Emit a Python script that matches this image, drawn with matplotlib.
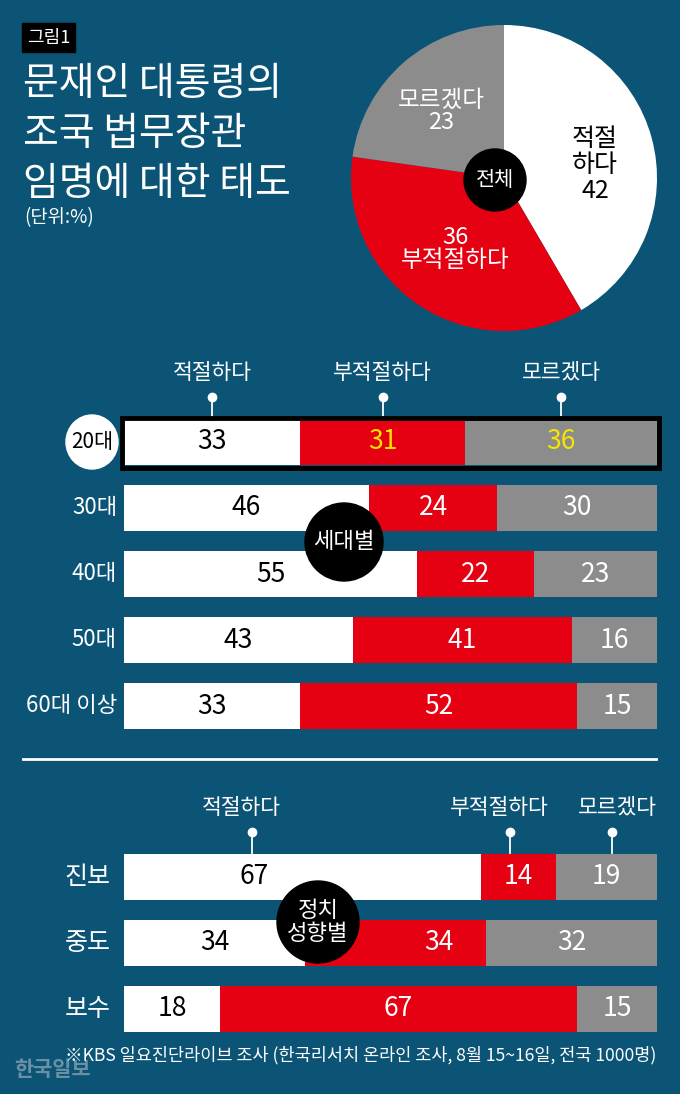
"""
문재인 대통령의 조국 법무장관 임명에 대한 태도 (그림1)
"""

import numpy as np
import matplotlib.pyplot as plt
import matplotlib.patches as mpatches

plt.rcParams['font.family'] = ['Noto Sans CJK KR', 'DejaVu Sans']

# data
answers = ['적절하다', '부적절하다', '모르겠다']
total = [42, 36, 23]

ages = ['20대', '30대', '40대', '50대', '60대 이상']
age_fit = [33, 46, 55, 43, 33]
age_unfit = [31, 24, 22, 41, 52]
age_dunno = [36, 30, 23, 16, 15]

groups = ['진보', '중도', '보수']
grp_fit = [67, 34, 18]
grp_unfit = [14, 34, 67]
grp_dunno = [19, 32, 15]

BG = '#0b5476'
RED = '#e50012'
GREY = '#8c8c8c'
YELLOW = '#f7e500'

W, H = 680, 1094
fig = plt.figure(figsize=(W / 100, H / 100), dpi=100)
fig.patch.set_facecolor(BG)


def px_axes(x0, y0, x1, y1, z=1):
	# axes placed by pixel box (top-left origin)
	return fig.add_axes([x0 / W, 1 - y1 / H, (x1 - x0) / W, (y1 - y0) / H], zorder=z)


# ---- pie ----
cx, cy, r = 504, 178, 153
pax = px_axes(cx - r, cy - r, cx + r, cy + r)
pax.pie(total, colors=['white', RED, GREY], startangle=90, counterclock=False,
	wedgeprops=dict(linewidth=0))
pax.set_xlim(-1, 1)
pax.set_ylim(-1, 1)
pax.axis('off')


def stacked(ax, rows, fit, unfit, dunno, yellow_row=None, nudge={}):
	vals = np.array([fit, unfit, dunno]).T
	lefts = np.zeros(len(rows))
	colors = ['white', RED, GREY]
	ypos = np.arange(len(rows))
	for j in range(3):
		ax.barh(ypos, vals[:, j], left=lefts, height=0.71, color=colors[j], linewidth=0)
		for i in range(len(rows)):
			tc = 'black' if j == 0 else 'white'
			if i == yellow_row and j > 0:
				tc = YELLOW
			# some labels are pushed aside to clear the black badges
			x = nudge.get((i, j), lefts[i] + vals[i, j] / 2)
			ax.text(x, i, str(vals[i, j]), ha='center', va='center',
				fontsize=19, color=tc)
		lefts = lefts + vals[:, j]
	ax.set_xlim(0, 100)
	ax.set_ylim(len(rows) - 0.5, -0.5)
	ax.axis('off')
	return vals


def legend_pins(ax, xs, texts, text_xs=None):
	if text_xs is None:
		text_xs = xs
	for x, tx, t in zip(xs, text_xs, texts):
		ax.plot([x, x], [-0.68, -0.36], color='white', lw=1.3, clip_on=False)
		ax.plot(x, -0.68, 'o', color='white', ms=6, clip_on=False)
		ax.text(tx, -1.05, t, ha='center', va='center', color='white', fontsize=15.5)


# ---- by age ----
aax = px_axes(124, 409, 657, 739, z=2)
vals = stacked(aax, ages, age_fit, age_unfit, age_dunno, yellow_row=0)
centers = np.cumsum(vals[0]) - vals[0] / 2
legend_pins(aax, centers, answers)
aax.add_patch(mpatches.Rectangle((-0.4, -0.37), 100.8, 0.76, fill=False,
	edgecolor='black', lw=3.5, clip_on=False, zorder=5))
for i, a in enumerate(ages):
	if i == 0:
		continue
	aax.text(-1.3, i, a, ha='right', va='center', color='white', fontsize=16)

# ---- by ideology ----
gax = px_axes(124, 844, 657, 1042, z=2)
stacked(gax, groups, grp_fit, grp_unfit, grp_dunno, nudge={(0, 0): 24.5, (1, 1): 59})
legend_pins(gax, [24, 72.5, 91.5], answers, text_xs=[22, 70.5, 92.5])
for i, g in enumerate(groups):
	gax.text(-2.5, i, g, ha='right', va='center', color='white', fontsize=18)

# ---- overlay in pixel coords ----
ov = px_axes(0, 0, W, H, z=3)
ov.set_xlim(0, W)
ov.set_ylim(H, 0)
ov.axis('off')

ov.add_patch(mpatches.Rectangle((22, 23), 53, 29, color='black'))
ov.text(48.5, 38, '그림1', ha='center', va='center', color='white', fontsize=13)
for k, line in enumerate(['문재인 대통령의', '조국 법무장관', '임명에 대한 태도']):
	ov.text(23, 84 + 50 * k, line, ha='left', va='center', color='white', fontsize=28)
ov.text(24, 218, '(단위:%)', ha='left', va='center', color='white', fontsize=13.5)

# pie labels
ov.text(595, 165, '적절\n하다\n42', ha='center', va='center', color='black', fontsize=18,
	linespacing=1.0)
ov.text(441, 111, '모르겠다\n23', ha='center', va='center', color='white', fontsize=17,
	linespacing=0.95)
ov.text(455, 249, '36\n부적절하다', ha='center', va='center', color='white', fontsize=17,
	linespacing=0.95, multialignment='center')
ov.add_patch(mpatches.Circle((495, 180), 31, color='black'))
ov.text(495, 180, '전체', ha='center', va='center', color='white', fontsize=15)

# 20대 badge
ov.add_patch(mpatches.Ellipse((92, 442), 52, 54, color='white'))
ov.text(92, 442, ages[0], ha='center', va='center', color='black', fontsize=15)

ov.add_patch(mpatches.Circle((344, 542), 39, color='black'))
ov.text(344, 542, '세대별', ha='center', va='center', color='white', fontsize=16)

ov.plot([23, 656], [759, 759], color='white', lw=2)

ov.add_patch(mpatches.Circle((318, 922), 41, color='black'))
ov.text(318, 922, '정치\n성향별', ha='center', va='center', color='white', fontsize=16,
	linespacing=1.0)

ov.text(656, 1055, '※KBS 일요진단라이브 조사 (한국리서치 온라인 조사, 8월 15~16일, 전국 1000명)',
	ha='right', va='center', color='white', fontsize=12.6)
ov.text(14, 1070, '한국일보', ha='left', va='center', color='#c8cdd2', alpha=0.5,
	fontsize=15, fontweight='bold')

fig.savefig('out.png', dpi=100, facecolor=BG)
